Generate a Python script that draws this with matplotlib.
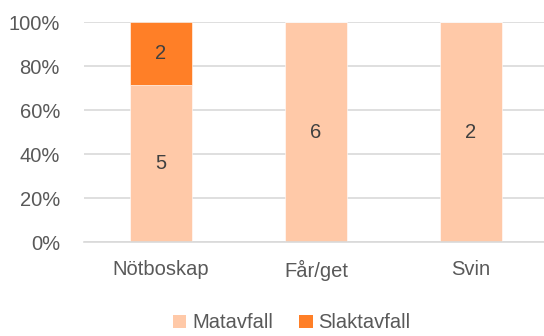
import numpy as np
import matplotlib
matplotlib.use("Agg")
import matplotlib.pyplot as plt
from matplotlib.patches import Patch

plt.rcParams["font.family"] = ["Liberation Sans", "DejaVu Sans"]

categories = ["Nötboskap", "Får/get", "Svin"]
matavfall = [5, 6, 2]
slaktavfall = [2, 0, 0]
series_names = ["Matavfall", "Slaktavfall"]
colors = ["#FFC9A8", "#FF7F27"]

mat = np.array(matavfall, dtype=float)
slakt = np.array(slaktavfall, dtype=float)
total = mat + slakt
mat_pct = mat / total * 100
slakt_pct = slakt / total * 100

FS = 14.5

fig = plt.figure(figsize=(5.44, 3.36), dpi=100)
ax = fig.add_axes([83.5 / 544, 1 - 242 / 336, 465 / 544, 220 / 336])

x = np.arange(len(categories))
ax.bar(x, mat_pct, width=0.4, color=colors[0], edgecolor="white", linewidth=0.4, zorder=2)
ax.bar(x, slakt_pct, width=0.4, bottom=mat_pct, color=colors[1], edgecolor="white",
       linewidth=0.4, zorder=2)

# value labels centred inside each segment
for i in range(len(categories)):
    if mat[i] > 0:
        ax.text(x[i], mat_pct[i] / 2, f"{int(mat[i])}", ha="center", va="center",
                fontsize=FS, color="#404040", zorder=3)
    if slakt[i] > 0:
        ax.text(x[i], mat_pct[i] + slakt_pct[i] / 2, f"{int(slakt[i])}", ha="center",
                va="center", fontsize=FS, color="#404040", zorder=3)

ax.set_xlim(-0.5, 2.5)
ax.set_ylim(0, 100)
ax.set_yticks(np.arange(0, 101, 20))
ax.set_yticklabels([f"{v}%" for v in range(0, 101, 20)])
ax.set_xticks(x)
ax.set_xticklabels(categories)
ax.tick_params(axis="both", length=0, labelsize=FS, colors="#595959")
ax.tick_params(axis="y", pad=17)
ax.tick_params(axis="x", pad=13)
ax.grid(axis="y", color="#D9D9D9", linewidth=1.2, zorder=0)
for side in ["left", "right", "top"]:
    ax.spines[side].set_visible(False)
ax.spines["bottom"].set_color("#D9D9D9")
ax.spines["bottom"].set_linewidth(1.2)

handles = [Patch(facecolor=c, edgecolor="none") for c in colors]
fig.legend(handles, series_names, loc="center", bbox_to_anchor=(292 / 544, 1 - 323 / 336),
           ncol=2, frameon=False, fontsize=FS, labelcolor="#595959",
           handlelength=0.65, handleheight=0.65, handletextpad=0.3, columnspacing=1.3)

fig.savefig("out.png", dpi=100)
